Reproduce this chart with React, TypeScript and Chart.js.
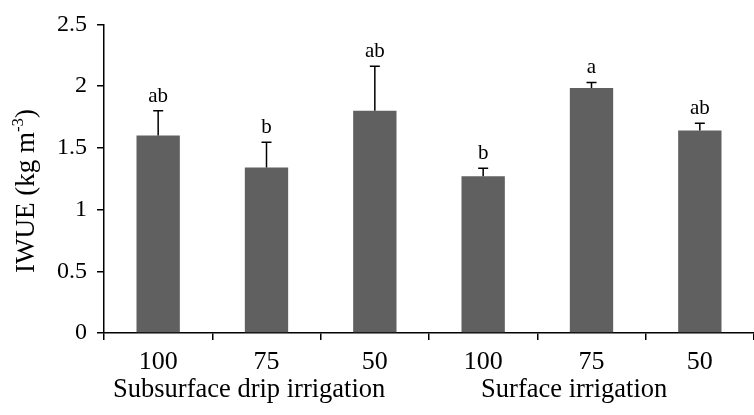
import { useEffect, useRef } from "react";
import { Chart, registerables } from "chart.js";

Chart.register(...registerables);

const categories = ["100", "75", "50", "100", "75", "50"];
const iwue = [1.6, 1.34, 1.8, 1.27, 1.985, 1.64];
const errors = [0.2, 0.205, 0.36, 0.065, 0.045, 0.06];
const letters = ["ab", "b", "ab", "b", "a", "ab"];
const groups = ["Subsurface drip irrigation", "Surface irrigation"];
const groupMid = [1, 4];

const FONT = "'Liberation Serif', 'Times New Roman', serif";

const annotations = {
  id: "annotations",
  afterDatasetsDraw(chart: any) {
    const { ctx, chartArea } = chart;
    const y = chart.scales.y;
    const x = chart.scales.x;
    const meta = chart.getDatasetMeta(0);
    ctx.save();
    ctx.strokeStyle = "#000";
    ctx.fillStyle = "#000";
    ctx.lineWidth = 1.5;
    meta.data.forEach((bar: any, i: number) => {
      const top = y.getPixelForValue(iwue[i] + errors[i]);
      ctx.beginPath();
      ctx.moveTo(bar.x, bar.y);
      ctx.lineTo(bar.x, top);
      ctx.moveTo(bar.x - 5, top);
      ctx.lineTo(bar.x + 5, top);
      ctx.stroke();
      ctx.font = `21px ${FONT}`;
      ctx.textAlign = "center";
      ctx.textBaseline = "alphabetic";
      ctx.fillText(letters[i], bar.x, top - 9);
    });

    // group labels under the category ticks
    ctx.font = `26.5px ${FONT}`;
    ctx.textAlign = "center";
    groups.forEach((g, i) => {
      ctx.fillText(g, x.getPixelForValue(groupMid[i] - 0.16), chartArea.bottom + 64);
    });

    // y axis title with superscript
    const main = "IWUE (kg m";
    const sup = "-3";
    const close = ")";
    ctx.font = `27px ${FONT}`;
    const w1 = ctx.measureText(main).width;
    const w3 = ctx.measureText(close).width;
    ctx.font = `17px ${FONT}`;
    const w2 = ctx.measureText(sup).width;
    const total = w1 + w2 + w3;
    ctx.translate(34, 191);
    ctx.rotate(-Math.PI / 2);
    ctx.textAlign = "left";
    ctx.font = `27px ${FONT}`;
    ctx.fillText(main, -total / 2, 0);
    ctx.font = `17px ${FONT}`;
    ctx.fillText(sup, -total / 2 + w1, -11);
    ctx.font = `27px ${FONT}`;
    ctx.fillText(close, -total / 2 + w1 + w2, 0);
    ctx.restore();
  },
};

const App = () => {
  const chartRef = useRef<HTMLCanvasElement | null>(null);
  const chartInstance = useRef<Chart | null>(null);

  useEffect(() => {
    if (!chartRef.current) return;
    if (chartInstance.current) chartInstance.current.destroy();

    document.body.style.margin = "0";

    chartInstance.current = new Chart(chartRef.current, {
      type: "bar",
      data: {
        labels: categories,
        datasets: [
          {
            data: iwue,
            backgroundColor: "#606060",
            barPercentage: 0.4,
            categoryPercentage: 1,
          },
        ],
      },
      options: {
        animation: false,
        responsive: true,
        maintainAspectRatio: false,
        layout: { padding: { top: 22, right: 0, left: 0, bottom: 0 } },
        plugins: {
          legend: { display: false },
          tooltip: { enabled: false },
        },
        scales: {
          x: {
            grid: { drawOnChartArea: false, drawTicks: true, tickLength: 7, color: "#000", lineWidth: 1.5 },
            border: { color: "#000", width: 1.5 },
            ticks: { color: "#000", font: { family: FONT, size: 26 }, padding: 7 },
            afterFit: (scale: any) => {
              scale.height = 82;
            },
          },
          y: {
            min: 0,
            max: 2.5,
            ticks: {
              stepSize: 0.5,
              color: "#000",
              font: { family: FONT, size: 24 },
              padding: 10,
              callback: (v: any) => String(Number(v)),
            },
            grid: { drawOnChartArea: false, drawTicks: true, tickLength: 7, color: "#000", lineWidth: 1.5 },
            border: { color: "#000", width: 1.5 },
            afterFit: (scale: any) => {
              scale.width = 104;
            },
          },
        },
      },
      plugins: [annotations],
    });

    return () => {
      if (chartInstance.current) {
        chartInstance.current.destroy();
        chartInstance.current = null;
      }
    };
  }, []);

  return (
    <div style={{ width: "754px", height: "415px" }}>
      <canvas ref={chartRef} />
    </div>
  );
};

export default App;
